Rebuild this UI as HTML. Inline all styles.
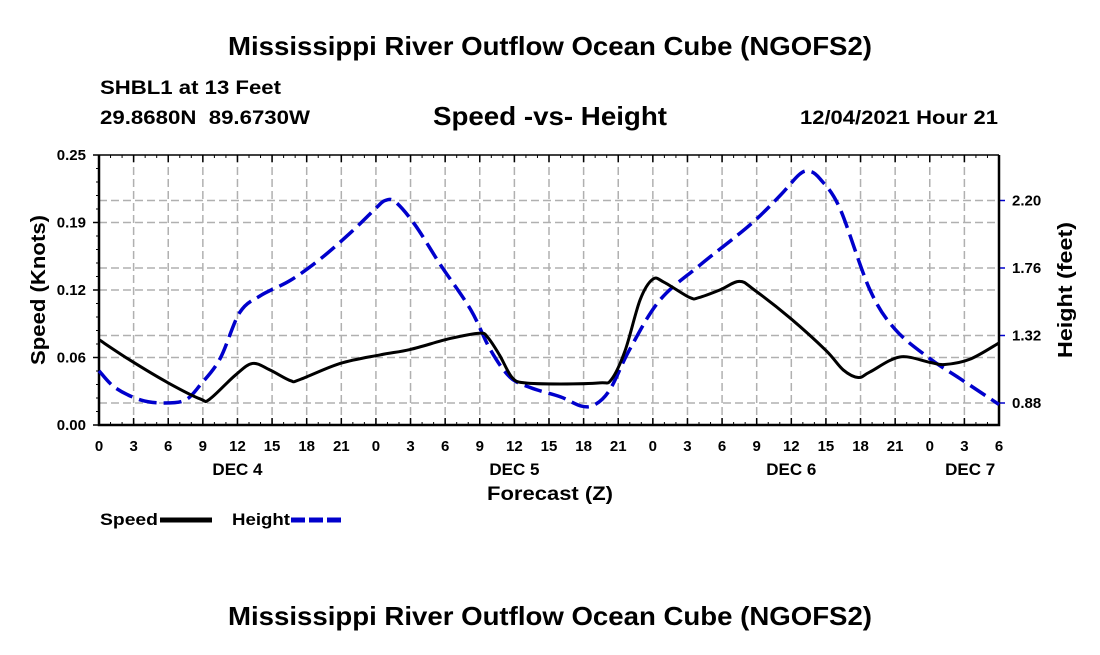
<!DOCTYPE html>
<html><head><meta charset="utf-8"><style>
body{margin:0;background:#fff}
svg text{font-family:"Liberation Sans",Arial,sans-serif;font-weight:bold}
</style></head><body>
<svg id="c" width="1100" height="650" xmlns="http://www.w3.org/2000/svg">
<text x="550" y="55" font-size="26" text-anchor="middle" textLength="644" lengthAdjust="spacingAndGlyphs">Mississippi River Outflow Ocean Cube (NGOFS2)</text>
<text x="100" y="94" font-size="19" textLength="181" lengthAdjust="spacingAndGlyphs">SHBL1 at 13 Feet</text>
<text x="100" y="124" font-size="19" textLength="210" lengthAdjust="spacingAndGlyphs" xml:space="preserve">29.8680N  89.6730W</text>
<text x="550" y="125" font-size="26" text-anchor="middle" textLength="234" lengthAdjust="spacingAndGlyphs">Speed -vs- Height</text>
<text x="998" y="124" font-size="19" text-anchor="end" textLength="198" lengthAdjust="spacingAndGlyphs">12/04/2021 Hour 21</text>
<text transform="translate(45,290) rotate(-90)" font-size="20" text-anchor="middle" textLength="150" lengthAdjust="spacingAndGlyphs">Speed (Knots)</text>
<text transform="translate(1072,290) rotate(-90)" font-size="20" text-anchor="middle" textLength="136" lengthAdjust="spacingAndGlyphs">Height (feet)</text>
<text x="550" y="500" font-size="19" text-anchor="middle" textLength="126" lengthAdjust="spacingAndGlyphs">Forecast (Z)</text>
<g>
<text x="100" y="525" font-size="17" textLength="58" lengthAdjust="spacingAndGlyphs">Speed</text>
<line x1="160" y1="520" x2="212" y2="520" stroke="#000" stroke-width="5"/>
<text x="232" y="525" font-size="17" textLength="58" lengthAdjust="spacingAndGlyphs">Height</text>
<line x1="291" y1="520" x2="342" y2="520" stroke="#00c" stroke-width="5" stroke-dasharray="14 4"/>
</g>
<text x="550" y="625" font-size="26" text-anchor="middle" textLength="644" lengthAdjust="spacingAndGlyphs">Mississippi River Outflow Ocean Cube (NGOFS2)</text>
<g id="plot"></g>
</svg>
<script>
const speedHours=[0,2.7,6,8.8,9.6,11.8,13.3,14.8,16.6,17.4,20.9,24.4,27,30.4,33,33.7,34.7,35.8,36.9,40,43.4,44.4,45.6,46.9,48,49,51.2,52,53.8,55.5,56.8,59.9,63,64.5,65.8,66.8,69.4,72,73.3,75.5,78];
const speedValues=[0.079,0.060,0.039,0.024,0.024,0.046,0.057,0.051,0.041,0.042,0.057,0.065,0.070,0.080,0.085,0.081,0.065,0.044,0.039,0.038,0.039,0.042,0.069,0.116,0.135,0.132,0.118,0.118,0.125,0.133,0.125,0.099,0.069,0.051,0.044,0.049,0.063,0.058,0.056,0.061,0.076];
const heightHours=[0,1.4,3.6,5.7,7.5,8.8,10.5,12.2,14,16.6,19.2,21.8,24,24.8,25.7,27.4,29.6,32.2,33.9,35.6,37.4,40,41.8,43,44.3,46,48.6,52.1,56.4,59,60.7,61.6,62.5,64.2,66.8,69,72,74.6,77.2,78];
const heightValues=[1.09,0.98,0.90,0.88,0.90,1.00,1.17,1.47,1.58,1.68,1.82,1.99,2.15,2.20,2.19,2.04,1.78,1.49,1.23,1.05,0.98,0.92,0.86,0.87,0.97,1.23,1.55,1.78,2.04,2.23,2.37,2.39,2.34,2.15,1.62,1.36,1.17,1.04,0.91,0.87];
const xTickLabels=["0","3","6","9","12","15","18","21","0","3","6","9","12","15","18","21","0","3","6","9","12","15","18","21","0","3","6"];
const dayLabels=["DEC 4","DEC 5","DEC 6","DEC 7"];
const dayHours=[12,36,60,75.5];
const speedTicks=[0,0.0625,0.125,0.1875,0.25];
const speedTickLabels=["0.00","0.06","0.12","0.19","0.25"];
const heightTicks=[0.88,1.32,1.76,2.20];
const heightTickLabels=["0.88","1.32","1.76","2.20"];

const L=99,R=999,T=155,B=425;
const x=h=>L+h*(R-L)/78;
const yS=v=>B-v*(B-T)/0.25;
const yH=f=>403-(f-0.88)*(67.5/0.44);
const NS="http://www.w3.org/2000/svg";
const g=document.getElementById('plot');
function mk(t,a){const e=document.createElementNS(NS,t);for(const k in a)e.setAttribute(k,a[k]);g.appendChild(e);return e;}
xTickLabels.forEach((lab,i)=>{const xx=x(i*3);
 if(i>0&&i<26){const l=mk('line',{x1:xx,y1:T,x2:xx,y2:B,stroke:'#b0b0b0','stroke-width':1.5,'stroke-dasharray':'8 4'});
 
 }
 const t=mk('text',{x:xx,y:451,'font-size':15,'text-anchor':'middle'});t.textContent=lab;
 
 
 mk('line',{x1:xx,y1:B,x2:xx,y2:B-7,stroke:'#000','stroke-width':1.5});
 mk('line',{x1:xx,y1:T,x2:xx,y2:T+7,stroke:'#000','stroke-width':1.5});
});
for(let h=1;h<78;h++){mk('line',{x1:x(h),y1:B,x2:x(h),y2:B-3,stroke:'#000'});mk('line',{x1:x(h),y1:T,x2:x(h),y2:T+3,stroke:'#000'});}
dayLabels.forEach((d,i)=>{const t=mk('text',{x:x(dayHours[i]),y:475,'font-size':17,'text-anchor':'middle'});t.textContent=d;
 
 });
speedTicks.forEach((v,i)=>{const yy=yS(v);
 if(i>0&&i<4){const l=mk('line',{x1:L,y1:yy,x2:R,y2:yy,stroke:'#b0b0b0','stroke-width':1.5,'stroke-dasharray':'8 4'});
 
 }
 mk('line',{x1:L,y1:yy,x2:L-6,y2:yy,stroke:'#000','stroke-width':1.5});
 const t=mk('text',{x:L-13,y:yy+5,'font-size':15,'text-anchor':'end'});t.textContent=speedTickLabels[i];
 
 });
for(let v=0.0125;v<0.25;v+=0.0125){mk('line',{x1:L,y1:yS(v),x2:L-3,y2:yS(v),stroke:'#000'});}
heightTicks.forEach((f,i)=>{const yy=yH(f);
 const l=mk('line',{x1:L,y1:yy,x2:R,y2:yy,stroke:'#b0b0b0','stroke-width':1.5,'stroke-dasharray':'8 4'});
 
 
 mk('line',{x1:R,y1:yy,x2:R+6,y2:yy,stroke:'#00c','stroke-width':1.5});
 const t=mk('text',{x:R+13,y:yy+5,'font-size':15});t.textContent=heightTickLabels[i];
 
 });
const ax=mk('path',{d:`M${L},${T}V${B}H${R}V${T}`,fill:'none',stroke:'#000','stroke-width':2.5});


mk('line',{x1:L,y1:T,x2:R,y2:T,stroke:'#000','stroke-width':1.5});
function path(hs,vs,yf){const p=hs.map((h,i)=>[x(h),yf(vs[i])]);let d=`M${p[0][0]},${p[0][1]}`;
 for(let i=0;i<p.length-1;i++){const p0=p[Math.max(0,i-1)],p1=p[i],p2=p[i+1],p3=p[Math.min(p.length-1,i+2)];
 d+=`C${p1[0]+(p2[0]-p0[0])/6},${p1[1]+(p2[1]-p0[1])/6} ${p2[0]-(p3[0]-p1[0])/6},${p2[1]-(p3[1]-p1[1])/6} ${p2[0]},${p2[1]}`;}return d;}
const hl=mk('path',{d:path(heightHours,heightValues,yH),fill:'none',stroke:'#00c','stroke-width':3.5,'stroke-dasharray':'18 7'});


const sl=mk('path',{d:path(speedHours,speedValues,yS),fill:'none',stroke:'#000','stroke-width':3});


</script>
</body></html>
